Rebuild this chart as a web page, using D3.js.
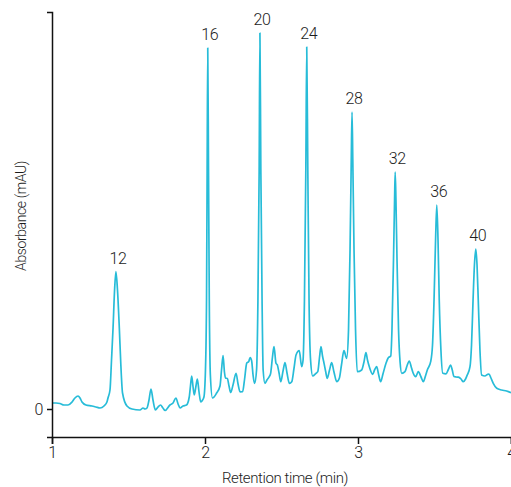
<!DOCTYPE html>
<html>
<head>
<meta charset="utf-8">
<script src="https://cdn.jsdelivr.net/npm/d3@7/dist/d3.min.js"></script>
<style>
  html, body { margin: 0; padding: 0; background: #fff; }
  svg { display: block; }
  text { font-family: Roboto, "Noto Sans", sans-serif; font-weight: 300; fill: #1c1c1c; letter-spacing: -0.4px; }
</style>
</head>
<body>
<svg id="chart" width="511" height="487"></svg>
<script>
// Retention time (min) and absorbance (mAU, arbitrary units)
const retentionTime = [
  1.000, 1.026, 1.052, 1.078, 1.105, 1.131, 1.150, 1.170, 1.183, 1.196,
  1.222, 1.261, 1.288, 1.314, 1.340, 1.359, 1.366, 1.379, 1.389, 1.399,
  1.409, 1.418, 1.428, 1.440, 1.450, 1.461, 1.490, 1.523, 1.575, 1.595,
  1.608, 1.621, 1.634, 1.647, 1.660, 1.676, 1.693, 1.709, 1.725, 1.739,
  1.771, 1.791, 1.810, 1.824, 1.837, 1.856, 1.879, 1.897, 1.905, 1.913,
  1.922, 1.930, 1.941, 1.950, 1.961, 1.972, 1.980, 1.993, 2.003, 2.010,
  2.014, 2.018, 2.023, 2.028, 2.035, 2.049, 2.076, 2.098, 2.108, 2.118,
  2.127, 2.134, 2.146, 2.157, 2.168, 2.183, 2.203, 2.216, 2.229, 2.246,
  2.258, 2.273, 2.286, 2.295, 2.305, 2.314, 2.324, 2.337, 2.346, 2.354,
  2.359, 2.365, 2.373, 2.380, 2.392, 2.405, 2.420, 2.429, 2.441, 2.451,
  2.464, 2.473, 2.484, 2.495, 2.510, 2.523, 2.536, 2.551, 2.567, 2.582,
  2.595, 2.616, 2.632, 2.641, 2.650, 2.659, 2.665, 2.672, 2.680, 2.690,
  2.704, 2.725, 2.737, 2.748, 2.758, 2.768, 2.778, 2.788, 2.799, 2.814,
  2.828, 2.843, 2.861, 2.878, 2.892, 2.908, 2.926, 2.938, 2.948, 2.956,
  2.961, 2.966, 2.974, 2.984, 2.995, 3.024, 3.039, 3.052, 3.062, 3.074,
  3.096, 3.108, 3.122, 3.134, 3.148, 3.163, 3.183, 3.198, 3.214, 3.222,
  3.232, 3.239, 3.243, 3.248, 3.255, 3.265, 3.275, 3.286, 3.307, 3.320,
  3.335, 3.350, 3.361, 3.377, 3.394, 3.412, 3.427, 3.441, 3.453, 3.475,
  3.487, 3.497, 3.507, 3.515, 3.523, 3.531, 3.542, 3.554, 3.575, 3.592,
  3.605, 3.616, 3.627, 3.641, 3.656, 3.673, 3.688, 3.703, 3.714, 3.732,
  3.742, 3.752, 3.761, 3.770, 3.778, 3.786, 3.797, 3.808, 3.830, 3.846,
  3.856, 3.869, 3.884, 3.907, 3.939, 3.971, 4.000
];
const absorbance = [
    6,   6,  5.5,  4,   4,   7,  11,  13,  11,   7,
    4,   3,   2,   1,   3,   7,  11,  19,  49,  81,
  119, 137.5, 119, 81,  44,  16,   3,   0,  -1,   1,
    0,   1,   9,  20,   9,  -1,   2,   4,   1, -1.5,
    4,   6,  11,   5,   1,   3,   4,  12,  23,  33,
   22,  14,  23,  30,  17,   7,   8,  12,  39, 109,
  239, 361, 239, 109,  34,  11,  16,  23,  39, 53.5,
   37,  31, 30.5, 23, 16.5, 24, 35.7, 25, 17.2, 17.3,
   29,  46, 47.5, 51.5, 48, 34, 25.5, 39, 109, 239,
  376, 239, 109,  39, 25.7, 29, 32.3, 35.7, 52, 62.3,
  45.7, 44,  36, 27.3, 38, 46.3, 36, 25.7, 27.3, 41,
   54, 58.3, 42.3, 49, 109, 239, 362, 239, 109,  49,
   33, 35.7, 37.3, 51, 62.3, 53, 45.7, 38, 30.7, 39,
  46.3, 37, 27.3, 30.7, 44, 58.3, 50.7, 79, 159, 249,
  297, 249, 159,  79, 37.3, 39,  47, 56.3, 49, 42.3,
  34.7, 39, 42.3, 35, 27.3, 35, 45.7, 51.3, 53, 79,
  149, 209, 237, 209, 149,  79,  47, 35.7, 37.3, 43,
   48, 41, 35.7, 32.3, 37.3, 32, 27.3, 33, 39, 47.3,
   64, 109, 169, 204, 169, 109,  59, 35.7, 35.2, 40,
   44,  39, 32.5,  32, 31.8, 30, 27.3, 30,  34, 42.3,
   64, 109, 144, 160, 144, 109,  59,  34,  33, 34.5,
   35,  31, 25.7, 20.7,  19,  18, 16.3
];
// Peak annotations
const peakLabels = ["12", "16", "20", "24", "28", "32", "36", "40"];
const peakTimes  = [1.418, 2.018, 2.359, 2.665, 2.961, 3.243, 3.515, 3.770];
const peakValues = [137.5, 361, 376, 362, 297, 237, 204, 160];
const xTicks = [1, 2, 3, 4];
const yTicks = [0];

const svg = d3.select("#chart");
const x = d3.scaleLinear().domain([1, 4]).range([52, 511]);
const y = d3.scaleLinear().domain([-28, 397]).range([437, 12]);

const series = retentionTime.map((t, i) => ({ t, v: absorbance[i] }));

const line = d3.line()
  .x(d => x(d.t))
  .y(d => y(d.v))
  .curve(d3.curveMonotoneX);

svg.append("path")
  .datum(series)
  .attr("d", line)
  .attr("fill", "none")
  .attr("stroke", "#27bcd8")
  .attr("stroke-width", 1.7)
  .attr("stroke-linejoin", "round");

// Axes
const xAxis = svg.append("g")
  .attr("transform", `translate(0,437)`)
  .call(d3.axisBottom(x).tickValues(xTicks).tickFormat(d3.format("d")).tickSizeOuter(0).tickSize(7).tickPadding(3));
const yAxis = svg.append("g")
  .attr("transform", `translate(52,0)`)
  .call(d3.axisLeft(y).tickValues(yTicks).tickFormat(d3.format("d")).tickSizeOuter(0).tickSize(5).tickPadding(4));

[xAxis, yAxis].forEach(g => {
  g.select(".domain").attr("stroke", "#111").attr("stroke-width", 1.5);
  g.selectAll(".tick line").attr("stroke", "#111").attr("stroke-width", 1.5);
  g.selectAll(".tick text").attr("font-size", 16).attr("fill", "#1c1c1c")
    .attr("font-family", "Roboto, 'Noto Sans', sans-serif").attr("font-weight", 300);
});

// Peak labels
svg.append("g").selectAll("text")
  .data(peakLabels)
  .join("text")
  .attr("x", (d, i) => x(peakTimes[i]) + 2)
  .attr("y", (d, i) => y(peakValues[i]) - 8)
  .attr("text-anchor", "middle")
  .attr("font-size", 16)
  .text(d => d);

// Axis titles
svg.append("text")
  .attr("x", 285)
  .attr("y", 483)
  .attr("text-anchor", "middle")
  .attr("font-size", 15)
  .text("Retention time (min)");

svg.append("text")
  .attr("transform", "translate(26,216) rotate(-90)")
  .attr("text-anchor", "middle")
  .attr("font-size", 14)
  .text("Absorbance (mAU)");
</script>
</body>
</html>
